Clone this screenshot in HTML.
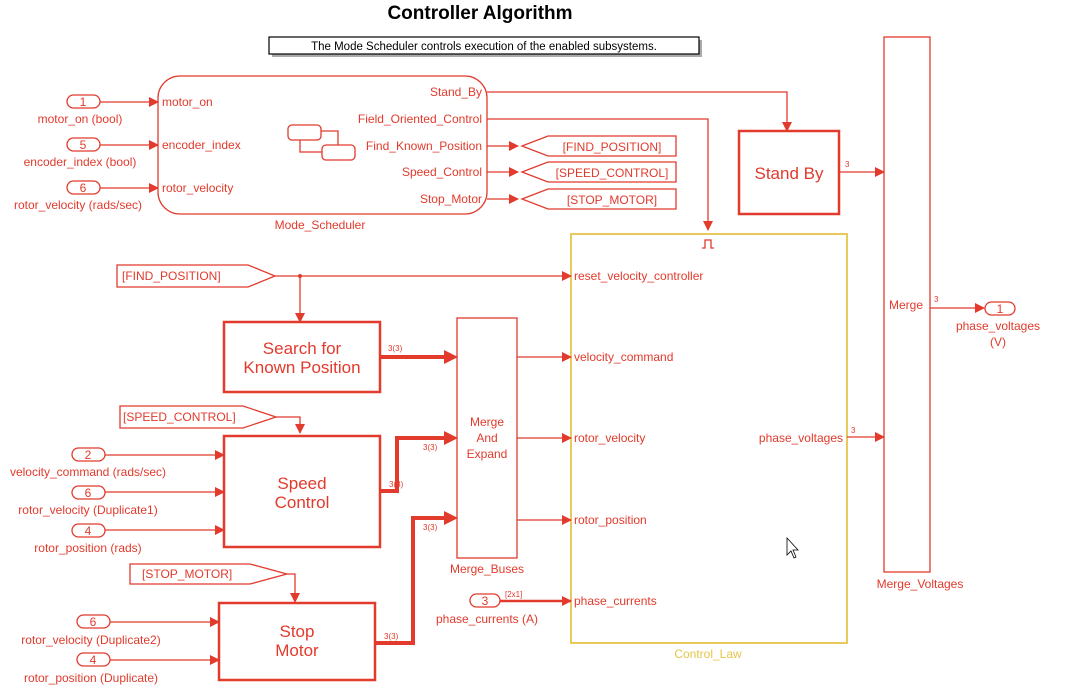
<!DOCTYPE html>
<html><head><meta charset="utf-8"><style>
body{margin:0;background:#fff;}
svg{display:block;font-family:"Liberation Sans",Arial,sans-serif;}
.r{fill:none;stroke:#e23a2c;stroke-width:1.3}
.rt{fill:none;stroke:#e23a2c;stroke-width:2.5}
.bus{fill:none;stroke:#e23a2c;stroke-width:4}
.t{fill:#e23a2c;font-size:12px}
.s{fill:#e23a2c;font-size:8px}
.big{fill:#e23a2c;font-size:17px;text-anchor:middle}
.a{fill:#e23a2c}
</style></head><body>
<svg width="1080" height="689" viewBox="0 0 1080 689">
<defs>
<marker id="ar" markerWidth="10" markerHeight="10" refX="9" refY="5" orient="auto" markerUnits="userSpaceOnUse"><path d="M0,0 L10,5 L0,10 Z" fill="#e23a2c"/></marker>
<marker id="arb" markerWidth="14" markerHeight="14" refX="13" refY="7" orient="auto" markerUnits="userSpaceOnUse"><path d="M0,0 L14,7 L0,14 Z" fill="#e23a2c"/></marker>
</defs>
<text x="480" y="19" text-anchor="middle" font-size="19" font-weight="bold" fill="#000">Controller Algorithm</text>
<rect x="272" y="40" width="430" height="17" fill="#aaa"/>
<rect x="269" y="37" width="430" height="17" fill="#fff" stroke="#000" stroke-width="1.2"/>
<text x="484" y="50" text-anchor="middle" font-size="11.5" fill="#000">The Mode Scheduler controls execution of the enabled subsystems.</text>

<!-- Mode scheduler -->
<rect x="158" y="76" width="329" height="138" rx="22" class="r"/>
<text x="320" y="229" text-anchor="middle" class="t">Mode_Scheduler</text>
<rect x="288" y="125" width="33" height="15" rx="4" class="r"/>
<rect x="322" y="145" width="33" height="15" rx="4" class="r"/>
<path d="M321,131 H338 V145 M300,140 V152 H322" class="r"/>
<text x="162" y="106" class="t" font-size="11">motor_on</text>
<text x="162" y="149" class="t" font-size="11">encoder_index</text>
<text x="162" y="192" class="t" font-size="11">rotor_velocity</text>
<g class="t" font-size="11" text-anchor="end">
<text x="482" y="96">Stand_By</text>
<text x="482" y="123">Field_Oriented_Control</text>
<text x="482" y="150">Find_Known_Position</text>
<text x="482" y="176">Speed_Control</text>
<text x="482" y="203">Stop_Motor</text>
</g>
<!-- inports -->
<g>
<rect x="67" y="95" width="33" height="13" rx="6.5" class="r"/><text x="83" y="106" text-anchor="middle" class="t">1</text>
<text x="80" y="123" text-anchor="middle" class="t">motor_on (bool)</text>
<path d="M100,102 H158" class="r" marker-end="url(#ar)"/>
<rect x="67" y="138" width="33" height="13" rx="6.5" class="r"/><text x="83" y="149" text-anchor="middle" class="t">5</text>
<text x="80" y="166" text-anchor="middle" class="t">encoder_index (bool)</text>
<path d="M100,145 H158" class="r" marker-end="url(#ar)"/>
<rect x="67" y="181" width="33" height="13" rx="6.5" class="r"/><text x="83" y="192" text-anchor="middle" class="t">6</text>
<text x="78" y="209" text-anchor="middle" class="t">rotor_velocity (rads/sec)</text>
<path d="M100,188 H158" class="r" marker-end="url(#ar)"/>
</g>
<!-- gotos -->
<g>
<path d="M487,146 H518" class="r" marker-end="url(#ar)"/>
<path d="M522,146 L548,136 H676 V156 H548 Z" class="r"/>
<text x="612" y="151" text-anchor="middle" class="t">[FIND_POSITION]</text>
<path d="M487,172 H518" class="r" marker-end="url(#ar)"/>
<path d="M522,172 L548,162 H676 V182 H548 Z" class="r"/>
<text x="612" y="177" text-anchor="middle" class="t">[SPEED_CONTROL]</text>
<path d="M487,199 H518" class="r" marker-end="url(#ar)"/>
<path d="M522,199 L548,189 H676 V209 H548 Z" class="r"/>
<text x="612" y="204" text-anchor="middle" class="t">[STOP_MOTOR]</text>
</g>
<!-- Stand by -->
<path d="M487,92 H787 V131" class="r" marker-end="url(#ar)"/>
<rect x="739" y="131" width="100" height="83" class="rt"/>
<text x="789" y="179" class="big">Stand By</text>
<text x="845" y="167" class="s">3</text>
<path d="M840,172 H884" class="r" marker-end="url(#ar)"/>
<!-- FOC -->
<path d="M487,119 H708 V230" class="r" marker-end="url(#ar)"/>
<!-- Control law -->
<rect x="571" y="234" width="276" height="409" fill="none" stroke="#e6c54a" stroke-width="1.8"/>
<path d="M702,248 H705 V240 H711 V248 H714" class="r"/>
<text x="708" y="658" text-anchor="middle" font-size="12" fill="#e6c54a">Control_Law</text>
<g class="t">
<text x="574" y="280">reset_velocity_controller</text>
<text x="574" y="361">velocity_command</text>
<text x="574" y="442">rotor_velocity</text>
<text x="574" y="524">rotor_position</text>
<text x="574" y="605">phase_currents</text>
<text x="843" y="442" text-anchor="end">phase_voltages</text>
</g>
<text x="851" y="433" class="s">3</text>
<path d="M847,437 H884" class="r" marker-end="url(#ar)"/>
<!-- Merge voltages -->
<rect x="884" y="37" width="46" height="535" class="r"/>
<text x="906" y="309" text-anchor="middle" class="t">Merge</text>
<text x="920" y="588" text-anchor="middle" class="t">Merge_Voltages</text>
<text x="934" y="302" class="s">3</text>
<path d="M930,308 H984" class="r" marker-end="url(#ar)"/>
<rect x="985" y="302" width="30" height="13" rx="6.5" class="r"/><text x="1000" y="313" text-anchor="middle" class="t">1</text>
<text x="998" y="330" text-anchor="middle" class="t">phase_voltages</text>
<text x="998" y="346" text-anchor="middle" class="t">(V)</text>
<!-- FIND_POSITION from -->
<path d="M117,265 H248 L275,276 L248,287 H117 Z" class="r"/>
<text x="122" y="280" class="t">[FIND_POSITION]</text>
<path d="M275,276 H571" class="r" marker-end="url(#ar)"/>
<circle cx="300" cy="276" r="2" class="a"/>
<path d="M300,276 V322" class="r" marker-end="url(#ar)"/>
<rect x="224" y="322" width="156" height="70" class="rt"/>
<text x="302" y="354" class="big">Search for</text>
<text x="302" y="373" class="big">Known Position</text>
<text x="388" y="351" class="s">3(3)</text>
<path d="M381,357 H450" class="bus"/><path d="M444,350 L458,357 L444,364 Z" class="a"/>
<!-- Merge buses -->
<rect x="457" y="318" width="60" height="240" class="r"/>
<g class="t" text-anchor="middle"><text x="487" y="426">Merge</text><text x="487" y="442">And</text><text x="487" y="458">Expand</text></g>
<text x="487" y="573" text-anchor="middle" class="t">Merge_Buses</text>
<path d="M517,357 H571" class="r" marker-end="url(#ar)"/>
<path d="M517,438 H571" class="r" marker-end="url(#ar)"/>
<path d="M517,520 H571" class="r" marker-end="url(#ar)"/>
<!-- SPEED_CONTROL from -->
<path d="M120,406 H243 L276,417 L243,428 H120 Z" class="r"/>
<text x="123" y="421" class="t">[SPEED_CONTROL]</text>
<path d="M276,417 H300 V433" class="r" marker-end="url(#ar)"/>
<rect x="224" y="436" width="156" height="111" class="rt"/>
<text x="302" y="489" class="big">Speed</text>
<text x="302" y="508" class="big">Control</text>
<rect x="72" y="448" width="33" height="13" rx="6.5" class="r"/><text x="88" y="459" text-anchor="middle" class="t">2</text>
<text x="88" y="476" text-anchor="middle" class="t">velocity_command (rads/sec)</text>
<path d="M105,455 H224" class="r" marker-end="url(#ar)"/>
<rect x="72" y="486" width="33" height="13" rx="6.5" class="r"/><text x="88" y="497" text-anchor="middle" class="t">6</text>
<text x="88" y="514" text-anchor="middle" class="t">rotor_velocity (Duplicate1)</text>
<path d="M105,492 H224" class="r" marker-end="url(#ar)"/>
<rect x="72" y="524" width="33" height="13" rx="6.5" class="r"/><text x="88" y="535" text-anchor="middle" class="t">4</text>
<text x="88" y="552" text-anchor="middle" class="t">rotor_position (rads)</text>
<path d="M105,530 H224" class="r" marker-end="url(#ar)"/>
<path d="M381,491 H397 V438 H450" class="bus"/><path d="M444,431 L458,438 L444,445 Z" class="a"/>
<text x="389" y="487" class="s">3(3)</text>
<text x="423" y="450" class="s">3(3)</text>
<!-- STOP_MOTOR from -->
<path d="M130,564 H250 L287,574 L250,584 H130 Z" class="r"/>
<text x="142" y="578" class="t">[STOP_MOTOR]</text>
<path d="M287,574 H295 V602" class="r" marker-end="url(#ar)"/>
<rect x="219" y="603" width="156" height="77" class="rt"/>
<text x="297" y="637" class="big">Stop</text>
<text x="297" y="656" class="big">Motor</text>
<rect x="77" y="615" width="33" height="13" rx="6.5" class="r"/><text x="93" y="626" text-anchor="middle" class="t">6</text>
<text x="91" y="644" text-anchor="middle" class="t">rotor_velocity (Duplicate2)</text>
<path d="M110,622 H219" class="r" marker-end="url(#ar)"/>
<rect x="77" y="653" width="33" height="13" rx="6.5" class="r"/><text x="93" y="664" text-anchor="middle" class="t">4</text>
<text x="91" y="682" text-anchor="middle" class="t">rotor_position (Duplicate)</text>
<path d="M110,660 H219" class="r" marker-end="url(#ar)"/>
<path d="M376,643 H413 V518 H450" class="bus"/><path d="M444,511 L458,518 L444,525 Z" class="a"/>
<text x="384" y="639" class="s">3(3)</text>
<text x="423" y="530" class="s">3(3)</text>
<!-- phase currents -->
<rect x="470" y="594" width="30" height="13" rx="6.5" class="r"/><text x="485" y="605" text-anchor="middle" class="t">3</text>
<text x="487" y="623" text-anchor="middle" class="t">phase_currents (A)</text>
<text x="505" y="597" class="s">[2x1]</text>
<path d="M500,601 H571" class="rt" marker-end="url(#ar)"/>
<path d="M787,538 V555 L791,551 L794,558 L796,557 L793,550 L798,550 Z" fill="#fff" stroke="#000" stroke-width="0.8"/>
</svg>
</body></html>
